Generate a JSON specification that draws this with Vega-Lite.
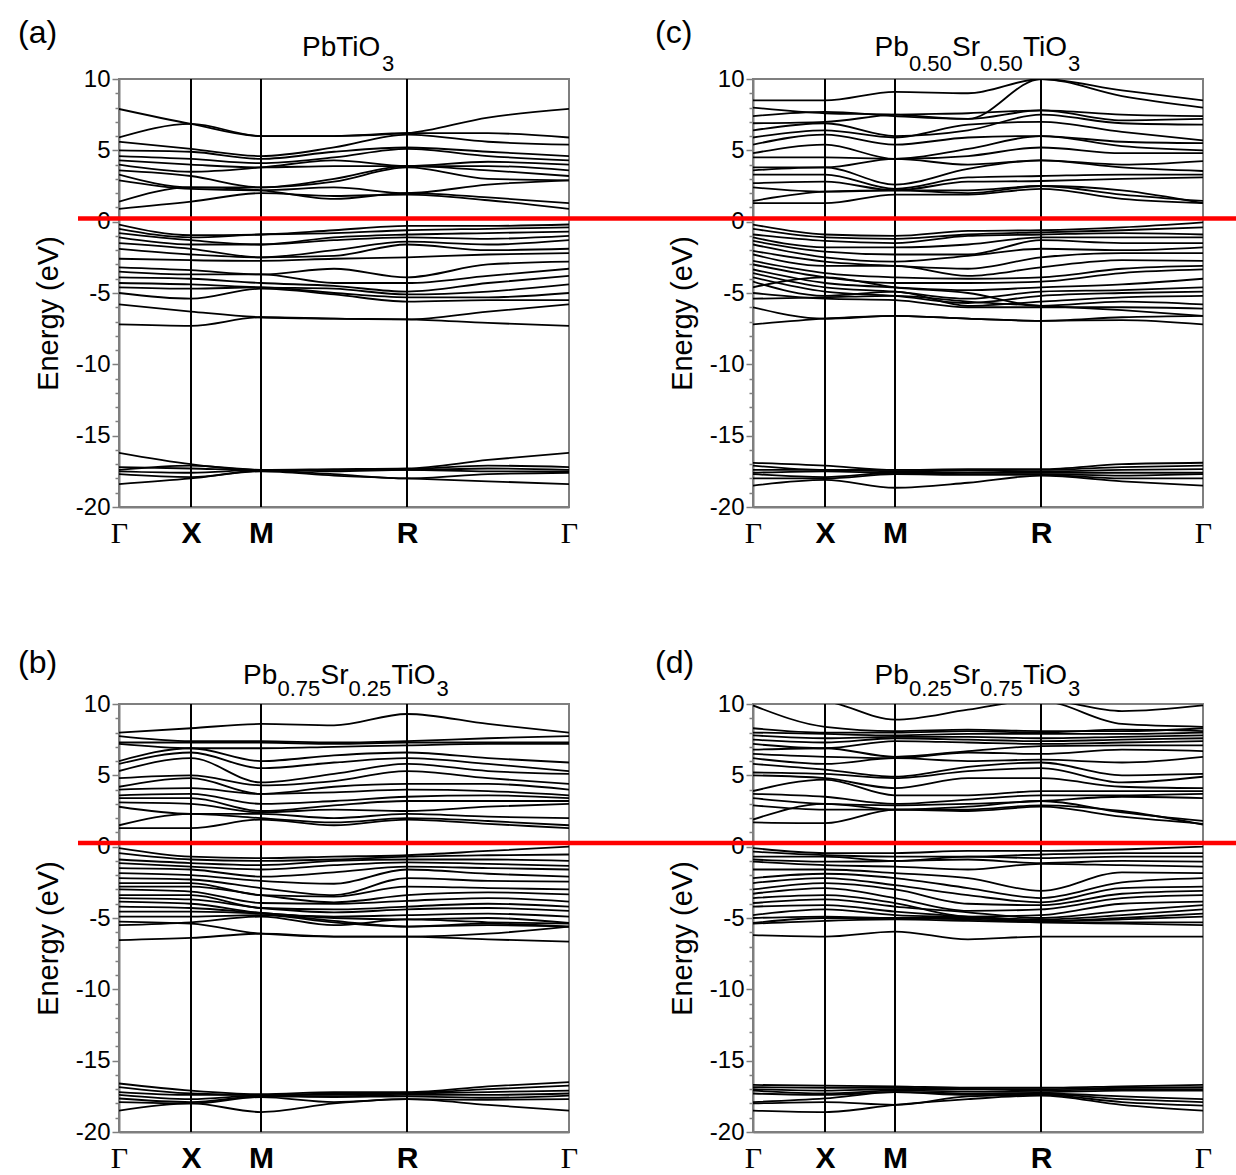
{
"$schema": "https://vega.github.io/schema/vega-lite/v6.json",
"padding": {"left": 17, "top": 16, "right": 0, "bottom": 0},
"background": "white",
"config": {
 "font": "Liberation Sans",
 "view": {"stroke": "#7f7f7f", "strokeWidth": 2},
 "axis": {"domainColor": "#7f7f7f", "domainWidth": 2, "tickColor": "#7f7f7f", "tickWidth": 1.5, "grid": false, "labelColor": "#000", "titleColor": "#000", "labelOverlap": false},
 "axisX": {"labelFontSize": 30, "labelPadding": 11},
 "axisY": {"labelFont": "Liberation Sans", "labelFontSize": 24, "labelPadding": 2, "titleFontSize": 29, "titleFont": "Liberation Sans", "titleFontWeight": "normal", "titlePadding": 12},
 "text": {"font": "Liberation Sans", "color": "#000"}
},
"datasets": {
"sym": [{"k":72},{"k":142},{"k":288}],
"a": [
{"b":1,"k":0,"e":-16.2},{"b":1,"k":72,"e":-17.0},{"b":1,"k":142,"e":-17.4},{"b":1,"k":215,"e":-17.35},{"b":1,"k":288,"e":-17.3},{"b":1,"k":369,"e":-16.7},{"b":1,"k":450,"e":-16.2},
{"b":2,"k":0,"e":-17.2},{"b":2,"k":72,"e":-17.3},{"b":2,"k":142,"e":-17.4},{"b":2,"k":215,"e":-17.4},{"b":2,"k":288,"e":-17.35},{"b":2,"k":369,"e":-17.1},{"b":2,"k":450,"e":-17.2},
{"b":3,"k":0,"e":-17.4},{"b":3,"k":72,"e":-17.1},{"b":3,"k":142,"e":-17.4},{"b":3,"k":215,"e":-17.4},{"b":3,"k":288,"e":-17.4},{"b":3,"k":369,"e":-17.3},{"b":3,"k":450,"e":-17.4},
{"b":4,"k":0,"e":-17.5},{"b":4,"k":72,"e":-17.6},{"b":4,"k":142,"e":-17.4},{"b":4,"k":215,"e":-17.5},{"b":4,"k":288,"e":-17.4},{"b":4,"k":369,"e":-17.5},{"b":4,"k":450,"e":-17.5},
{"b":5,"k":0,"e":-17.7},{"b":5,"k":72,"e":-17.9},{"b":5,"k":142,"e":-17.45},{"b":5,"k":215,"e":-17.7},{"b":5,"k":288,"e":-18.0},{"b":5,"k":369,"e":-17.7},{"b":5,"k":450,"e":-17.6},
{"b":6,"k":0,"e":-18.4},{"b":6,"k":72,"e":-18.0},{"b":6,"k":142,"e":-17.5},{"b":6,"k":215,"e":-17.8},{"b":6,"k":288,"e":-18.0},{"b":6,"k":369,"e":-18.2},{"b":6,"k":450,"e":-18.4},
{"b":7,"k":0,"e":-0.2},{"b":7,"k":72,"e":-0.95},{"b":7,"k":142,"e":-0.9},{"b":7,"k":215,"e":-0.6},{"b":7,"k":288,"e":-0.3},{"b":7,"k":369,"e":-0.3},{"b":7,"k":450,"e":-0.2},
{"b":8,"k":0,"e":-0.5},{"b":8,"k":72,"e":-1.1},{"b":8,"k":142,"e":-0.9},{"b":8,"k":215,"e":-0.8},{"b":8,"k":288,"e":-0.6},{"b":8,"k":369,"e":-0.5},{"b":8,"k":450,"e":-0.4},
{"b":9,"k":0,"e":-0.8},{"b":9,"k":72,"e":-1.3},{"b":9,"k":142,"e":-1.6},{"b":9,"k":215,"e":-1.1},{"b":9,"k":288,"e":-0.9},{"b":9,"k":369,"e":-0.8},{"b":9,"k":450,"e":-0.7},
{"b":10,"k":0,"e":-1.1},{"b":10,"k":72,"e":-1.6},{"b":10,"k":142,"e":-1.6},{"b":10,"k":215,"e":-1.3},{"b":10,"k":288,"e":-1.1},{"b":10,"k":369,"e":-1.2},{"b":10,"k":450,"e":-1.0},
{"b":11,"k":0,"e":-1.5},{"b":11,"k":72,"e":-1.9},{"b":11,"k":142,"e":-2.5},{"b":11,"k":215,"e":-2.0},{"b":11,"k":288,"e":-1.4},{"b":11,"k":369,"e":-1.6},{"b":11,"k":450,"e":-1.3},
{"b":12,"k":0,"e":-1.9},{"b":12,"k":72,"e":-2.3},{"b":12,"k":142,"e":-2.5},{"b":12,"k":215,"e":-2.4},{"b":12,"k":288,"e":-1.6},{"b":12,"k":369,"e":-2.0},{"b":12,"k":450,"e":-1.9},
{"b":13,"k":0,"e":-2.6},{"b":13,"k":72,"e":-2.7},{"b":13,"k":142,"e":-2.75},{"b":13,"k":215,"e":-2.6},{"b":13,"k":288,"e":-2.5},{"b":13,"k":369,"e":-2.3},{"b":13,"k":450,"e":-2.2},
{"b":14,"k":0,"e":-3.2},{"b":14,"k":72,"e":-3.4},{"b":14,"k":142,"e":-3.7},{"b":14,"k":215,"e":-3.3},{"b":14,"k":288,"e":-3.9},{"b":14,"k":369,"e":-3.0},{"b":14,"k":450,"e":-2.8},
{"b":15,"k":0,"e":-3.5},{"b":15,"k":72,"e":-3.7},{"b":15,"k":142,"e":-3.7},{"b":15,"k":215,"e":-4.3},{"b":15,"k":288,"e":-4.3},{"b":15,"k":369,"e":-3.8},{"b":15,"k":450,"e":-3.3},
{"b":16,"k":0,"e":-3.9},{"b":16,"k":72,"e":-4.0},{"b":16,"k":142,"e":-4.3},{"b":16,"k":215,"e":-4.5},{"b":16,"k":288,"e":-4.9},{"b":16,"k":369,"e":-4.3},{"b":16,"k":450,"e":-3.8},
{"b":17,"k":0,"e":-4.3},{"b":17,"k":72,"e":-4.4},{"b":17,"k":142,"e":-4.6},{"b":17,"k":215,"e":-4.7},{"b":17,"k":288,"e":-5.1},{"b":17,"k":369,"e":-4.9},{"b":17,"k":450,"e":-4.4},
{"b":18,"k":0,"e":-4.6},{"b":18,"k":72,"e":-4.7},{"b":18,"k":142,"e":-4.6},{"b":18,"k":215,"e":-5.0},{"b":18,"k":288,"e":-5.3},{"b":18,"k":369,"e":-5.3},{"b":18,"k":450,"e":-5.0},
{"b":19,"k":0,"e":-5.0},{"b":19,"k":72,"e":-5.4},{"b":19,"k":142,"e":-4.7},{"b":19,"k":215,"e":-5.1},{"b":19,"k":288,"e":-5.6},{"b":19,"k":369,"e":-5.5},{"b":19,"k":450,"e":-5.5},
{"b":20,"k":0,"e":-5.8},{"b":20,"k":72,"e":-6.3},{"b":20,"k":142,"e":-6.7},{"b":20,"k":215,"e":-6.8},{"b":20,"k":288,"e":-6.85},{"b":20,"k":369,"e":-6.3},{"b":20,"k":450,"e":-5.8},
{"b":21,"k":0,"e":-7.2},{"b":21,"k":72,"e":-7.3},{"b":21,"k":142,"e":-6.7},{"b":21,"k":215,"e":-6.8},{"b":21,"k":288,"e":-6.85},{"b":21,"k":369,"e":-7.1},{"b":21,"k":450,"e":-7.3},
{"b":22,"k":0,"e":7.9},{"b":22,"k":72,"e":6.85},{"b":22,"k":142,"e":6.0},{"b":22,"k":215,"e":6.0},{"b":22,"k":288,"e":6.2},{"b":22,"k":369,"e":7.3},{"b":22,"k":450,"e":7.9},
{"b":23,"k":0,"e":5.9},{"b":23,"k":72,"e":6.85},{"b":23,"k":142,"e":6.0},{"b":23,"k":215,"e":6.0},{"b":23,"k":288,"e":6.2},{"b":23,"k":369,"e":6.2},{"b":23,"k":450,"e":5.9},
{"b":24,"k":0,"e":5.6},{"b":24,"k":72,"e":5.1},{"b":24,"k":142,"e":4.6},{"b":24,"k":215,"e":5.2},{"b":24,"k":288,"e":6.1},{"b":24,"k":369,"e":5.6},{"b":24,"k":450,"e":5.4},
{"b":25,"k":0,"e":5.0},{"b":25,"k":72,"e":4.9},{"b":25,"k":142,"e":4.4},{"b":25,"k":215,"e":4.9},{"b":25,"k":288,"e":5.2},{"b":25,"k":369,"e":4.9},{"b":25,"k":450,"e":4.6},
{"b":26,"k":0,"e":4.6},{"b":26,"k":72,"e":4.4},{"b":26,"k":142,"e":4.1},{"b":26,"k":215,"e":4.5},{"b":26,"k":288,"e":5.1},{"b":26,"k":369,"e":4.6},{"b":26,"k":450,"e":4.3},
{"b":27,"k":0,"e":4.3},{"b":27,"k":72,"e":4.0},{"b":27,"k":142,"e":3.8},{"b":27,"k":215,"e":3.9},{"b":27,"k":288,"e":3.9},{"b":27,"k":369,"e":4.2},{"b":27,"k":450,"e":4.0},
{"b":28,"k":0,"e":4.0},{"b":28,"k":72,"e":3.5},{"b":28,"k":142,"e":3.8},{"b":28,"k":215,"e":4.3},{"b":28,"k":288,"e":3.9},{"b":28,"k":369,"e":3.9},{"b":28,"k":450,"e":3.6},
{"b":29,"k":0,"e":3.6},{"b":29,"k":72,"e":3.2},{"b":29,"k":142,"e":2.4},{"b":29,"k":215,"e":3.0},{"b":29,"k":288,"e":3.9},{"b":29,"k":369,"e":3.6},{"b":29,"k":450,"e":3.2},
{"b":30,"k":0,"e":3.3},{"b":30,"k":72,"e":2.4},{"b":30,"k":142,"e":2.4},{"b":30,"k":215,"e":2.8},{"b":30,"k":288,"e":3.8},{"b":30,"k":369,"e":3.0},{"b":30,"k":450,"e":2.9},
{"b":31,"k":0,"e":2.9},{"b":31,"k":72,"e":2.3},{"b":31,"k":142,"e":2.2},{"b":31,"k":215,"e":2.4},{"b":31,"k":288,"e":2.0},{"b":31,"k":369,"e":2.6},{"b":31,"k":450,"e":2.9},
{"b":32,"k":0,"e":1.4},{"b":32,"k":72,"e":2.4},{"b":32,"k":142,"e":2.2},{"b":32,"k":215,"e":1.6},{"b":32,"k":288,"e":2.0},{"b":32,"k":369,"e":1.7},{"b":32,"k":450,"e":1.3},
{"b":33,"k":0,"e":0.9},{"b":33,"k":72,"e":1.4},{"b":33,"k":142,"e":2.0},{"b":33,"k":215,"e":1.8},{"b":33,"k":288,"e":1.9},{"b":33,"k":369,"e":1.5},{"b":33,"k":450,"e":0.9}
],
"c": [
{"b":1,"k":0,"e":-16.9},{"b":1,"k":72,"e":-17.1},{"b":1,"k":142,"e":-17.4},{"b":1,"k":215,"e":-17.35},{"b":1,"k":288,"e":-17.35},{"b":1,"k":369,"e":-17.0},{"b":1,"k":450,"e":-16.9},
{"b":2,"k":0,"e":-17.1},{"b":2,"k":72,"e":-17.4},{"b":2,"k":142,"e":-17.4},{"b":2,"k":215,"e":-17.4},{"b":2,"k":288,"e":-17.4},{"b":2,"k":369,"e":-17.2},{"b":2,"k":450,"e":-17.1},
{"b":3,"k":0,"e":-17.4},{"b":3,"k":72,"e":-17.4},{"b":3,"k":142,"e":-17.5},{"b":3,"k":215,"e":-17.45},{"b":3,"k":288,"e":-17.5},{"b":3,"k":369,"e":-17.4},{"b":3,"k":450,"e":-17.35},
{"b":4,"k":0,"e":-17.6},{"b":4,"k":72,"e":-17.5},{"b":4,"k":142,"e":-17.6},{"b":4,"k":215,"e":-17.6},{"b":4,"k":288,"e":-17.6},{"b":4,"k":369,"e":-17.6},{"b":4,"k":450,"e":-17.6},
{"b":5,"k":0,"e":-17.7},{"b":5,"k":72,"e":-17.9},{"b":5,"k":142,"e":-17.6},{"b":5,"k":215,"e":-17.7},{"b":5,"k":288,"e":-17.7},{"b":5,"k":369,"e":-17.8},{"b":5,"k":450,"e":-17.7},
{"b":6,"k":0,"e":-18.0},{"b":6,"k":72,"e":-18.0},{"b":6,"k":142,"e":-17.7},{"b":6,"k":215,"e":-17.75},{"b":6,"k":288,"e":-17.75},{"b":6,"k":369,"e":-18.0},{"b":6,"k":450,"e":-18.0},
{"b":7,"k":0,"e":-18.5},{"b":7,"k":72,"e":-18.1},{"b":7,"k":142,"e":-18.65},{"b":7,"k":215,"e":-18.3},{"b":7,"k":288,"e":-17.8},{"b":7,"k":369,"e":-18.2},{"b":7,"k":450,"e":-18.5},
{"b":8,"k":0,"e":-0.2},{"b":8,"k":72,"e":-0.9},{"b":8,"k":142,"e":-1.0},{"b":8,"k":215,"e":-0.65},{"b":8,"k":288,"e":-0.6},{"b":8,"k":369,"e":-0.4},{"b":8,"k":450,"e":-0.05},
{"b":9,"k":0,"e":-0.5},{"b":9,"k":72,"e":-1.1},{"b":9,"k":142,"e":-1.2},{"b":9,"k":215,"e":-0.9},{"b":9,"k":288,"e":-0.75},{"b":9,"k":369,"e":-0.6},{"b":9,"k":450,"e":-0.4},
{"b":10,"k":0,"e":-0.9},{"b":10,"k":72,"e":-1.35},{"b":10,"k":142,"e":-1.5},{"b":10,"k":215,"e":-1.0},{"b":10,"k":288,"e":-0.9},{"b":10,"k":369,"e":-0.8},{"b":10,"k":450,"e":-0.9},
{"b":11,"k":0,"e":-1.1},{"b":11,"k":72,"e":-1.8},{"b":11,"k":142,"e":-1.8},{"b":11,"k":215,"e":-1.6},{"b":11,"k":288,"e":-1.1},{"b":11,"k":369,"e":-1.1},{"b":11,"k":450,"e":-1.1},
{"b":12,"k":0,"e":-1.35},{"b":12,"k":72,"e":-2.1},{"b":12,"k":142,"e":-2.3},{"b":12,"k":215,"e":-2.3},{"b":12,"k":288,"e":-1.3},{"b":12,"k":369,"e":-1.5},{"b":12,"k":450,"e":-1.5},
{"b":13,"k":0,"e":-1.6},{"b":13,"k":72,"e":-2.5},{"b":13,"k":142,"e":-2.8},{"b":13,"k":215,"e":-2.4},{"b":13,"k":288,"e":-1.9},{"b":13,"k":369,"e":-2.0},{"b":13,"k":450,"e":-1.8},
{"b":14,"k":0,"e":-2.05},{"b":14,"k":72,"e":-2.8},{"b":14,"k":142,"e":-3.1},{"b":14,"k":215,"e":-3.3},{"b":14,"k":288,"e":-2.5},{"b":14,"k":369,"e":-2.2},{"b":14,"k":450,"e":-2.2},
{"b":15,"k":0,"e":-2.3},{"b":15,"k":72,"e":-3.1},{"b":15,"k":142,"e":-3.1},{"b":15,"k":215,"e":-3.8},{"b":15,"k":288,"e":-3.2},{"b":15,"k":369,"e":-2.7},{"b":15,"k":450,"e":-2.75},
{"b":16,"k":0,"e":-2.75},{"b":16,"k":72,"e":-3.6},{"b":16,"k":142,"e":-3.9},{"b":16,"k":215,"e":-4.0},{"b":16,"k":288,"e":-3.9},{"b":16,"k":369,"e":-3.3},{"b":16,"k":450,"e":-3.1},
{"b":17,"k":0,"e":-3.0},{"b":17,"k":72,"e":-3.9},{"b":17,"k":142,"e":-4.3},{"b":17,"k":215,"e":-4.3},{"b":17,"k":288,"e":-4.2},{"b":17,"k":369,"e":-3.6},{"b":17,"k":450,"e":-3.35},
{"b":18,"k":0,"e":-3.35},{"b":18,"k":72,"e":-4.3},{"b":18,"k":142,"e":-4.6},{"b":18,"k":215,"e":-4.8},{"b":18,"k":288,"e":-4.6},{"b":18,"k":369,"e":-4.4},{"b":18,"k":450,"e":-4.0},
{"b":19,"k":0,"e":-3.6},{"b":19,"k":72,"e":-4.6},{"b":19,"k":142,"e":-4.9},{"b":19,"k":215,"e":-5.4},{"b":19,"k":288,"e":-4.9},{"b":19,"k":369,"e":-4.8},{"b":19,"k":450,"e":-4.6},
{"b":20,"k":0,"e":-3.9},{"b":20,"k":72,"e":-4.9},{"b":20,"k":142,"e":-5.2},{"b":20,"k":215,"e":-5.7},{"b":20,"k":288,"e":-5.2},{"b":20,"k":369,"e":-5.0},{"b":20,"k":450,"e":-4.9},
{"b":21,"k":0,"e":-4.2},{"b":21,"k":72,"e":-5.2},{"b":21,"k":142,"e":-4.9},{"b":21,"k":215,"e":-5.9},{"b":21,"k":288,"e":-5.6},{"b":21,"k":369,"e":-5.3},{"b":21,"k":450,"e":-5.2},
{"b":22,"k":0,"e":-4.6},{"b":22,"k":72,"e":-3.9},{"b":22,"k":142,"e":-4.6},{"b":22,"k":215,"e":-5.0},{"b":22,"k":288,"e":-5.9},{"b":22,"k":369,"e":-5.6},{"b":22,"k":450,"e":-5.8},
{"b":23,"k":0,"e":-5.0},{"b":23,"k":72,"e":-5.4},{"b":23,"k":142,"e":-5.5},{"b":23,"k":215,"e":-6.0},{"b":23,"k":288,"e":-6.0},{"b":23,"k":369,"e":-6.0},{"b":23,"k":450,"e":-6.1},
{"b":24,"k":0,"e":-5.4},{"b":24,"k":72,"e":-5.3},{"b":24,"k":142,"e":-5.2},{"b":24,"k":215,"e":-5.6},{"b":24,"k":288,"e":-5.9},{"b":24,"k":369,"e":-6.2},{"b":24,"k":450,"e":-6.6},
{"b":25,"k":0,"e":-6.0},{"b":25,"k":72,"e":-6.8},{"b":25,"k":142,"e":-6.6},{"b":25,"k":215,"e":-6.8},{"b":25,"k":288,"e":-6.95},{"b":25,"k":369,"e":-6.9},{"b":25,"k":450,"e":-7.2},
{"b":26,"k":0,"e":-7.2},{"b":26,"k":72,"e":-6.8},{"b":26,"k":142,"e":-6.6},{"b":26,"k":215,"e":-6.8},{"b":26,"k":288,"e":-6.95},{"b":26,"k":369,"e":-6.7},{"b":26,"k":450,"e":-6.6},
{"b":27,"k":0,"e":8.5},{"b":27,"k":72,"e":8.5},{"b":27,"k":142,"e":9.1},{"b":27,"k":215,"e":9.0},{"b":27,"k":288,"e":10.0},{"b":27,"k":369,"e":9.2},{"b":27,"k":450,"e":8.5},
{"b":28,"k":0,"e":8.0},{"b":28,"k":72,"e":7.6},{"b":28,"k":142,"e":7.5},{"b":28,"k":215,"e":7.2},{"b":28,"k":288,"e":10.0},{"b":28,"k":369,"e":8.8},{"b":28,"k":450,"e":8.0},
{"b":29,"k":0,"e":7.4},{"b":29,"k":72,"e":7.7},{"b":29,"k":142,"e":7.4},{"b":29,"k":215,"e":7.2},{"b":29,"k":288,"e":7.8},{"b":29,"k":369,"e":7.5},{"b":29,"k":450,"e":7.4},
{"b":30,"k":0,"e":6.9},{"b":30,"k":72,"e":7.0},{"b":30,"k":142,"e":7.5},{"b":30,"k":215,"e":7.6},{"b":30,"k":288,"e":7.8},{"b":30,"k":369,"e":7.1},{"b":30,"k":450,"e":7.2},
{"b":31,"k":0,"e":6.4},{"b":31,"k":72,"e":6.9},{"b":31,"k":142,"e":6.0},{"b":31,"k":215,"e":6.4},{"b":31,"k":288,"e":7.5},{"b":31,"k":369,"e":6.9},{"b":31,"k":450,"e":6.8},
{"b":32,"k":0,"e":5.9},{"b":32,"k":72,"e":6.4},{"b":32,"k":142,"e":5.9},{"b":32,"k":215,"e":6.8},{"b":32,"k":288,"e":7.0},{"b":32,"k":369,"e":6.3},{"b":32,"k":450,"e":5.7},
{"b":33,"k":0,"e":5.4},{"b":33,"k":72,"e":6.1},{"b":33,"k":142,"e":5.4},{"b":33,"k":215,"e":5.9},{"b":33,"k":288,"e":6.0},{"b":33,"k":369,"e":5.6},{"b":33,"k":450,"e":5.5},
{"b":34,"k":0,"e":4.8},{"b":34,"k":72,"e":5.4},{"b":34,"k":142,"e":4.4},{"b":34,"k":215,"e":5.1},{"b":34,"k":288,"e":6.0},{"b":34,"k":369,"e":5.3},{"b":34,"k":450,"e":5.0},
{"b":35,"k":0,"e":4.5},{"b":35,"k":72,"e":4.5},{"b":35,"k":142,"e":4.4},{"b":35,"k":215,"e":4.6},{"b":35,"k":288,"e":5.2},{"b":35,"k":369,"e":4.8},{"b":35,"k":450,"e":4.8},
{"b":36,"k":0,"e":3.8},{"b":36,"k":72,"e":3.8},{"b":36,"k":142,"e":4.4},{"b":36,"k":215,"e":4.0},{"b":36,"k":288,"e":4.3},{"b":36,"k":369,"e":4.0},{"b":36,"k":450,"e":4.25},
{"b":37,"k":0,"e":3.6},{"b":37,"k":72,"e":3.8},{"b":37,"k":142,"e":2.6},{"b":37,"k":215,"e":3.7},{"b":37,"k":288,"e":4.3},{"b":37,"k":369,"e":3.8},{"b":37,"k":450,"e":3.55},
{"b":38,"k":0,"e":3.3},{"b":38,"k":72,"e":3.3},{"b":38,"k":142,"e":2.3},{"b":38,"k":215,"e":3.1},{"b":38,"k":288,"e":3.2},{"b":38,"k":369,"e":3.3},{"b":38,"k":450,"e":3.3},
{"b":39,"k":0,"e":2.7},{"b":39,"k":72,"e":2.8},{"b":39,"k":142,"e":2.2},{"b":39,"k":215,"e":2.8},{"b":39,"k":288,"e":2.85},{"b":39,"k":369,"e":3.0},{"b":39,"k":450,"e":3.1},
{"b":40,"k":0,"e":2.4},{"b":40,"k":72,"e":2.1},{"b":40,"k":142,"e":2.2},{"b":40,"k":215,"e":2.2},{"b":40,"k":288,"e":2.5},{"b":40,"k":369,"e":1.9},{"b":40,"k":450,"e":1.45},
{"b":41,"k":0,"e":1.45},{"b":41,"k":72,"e":2.1},{"b":41,"k":142,"e":2.2},{"b":41,"k":215,"e":2.0},{"b":41,"k":288,"e":2.5},{"b":41,"k":369,"e":2.2},{"b":41,"k":450,"e":1.3},
{"b":42,"k":0,"e":1.3},{"b":42,"k":72,"e":1.3},{"b":42,"k":142,"e":1.9},{"b":42,"k":215,"e":1.9},{"b":42,"k":288,"e":2.3},{"b":42,"k":369,"e":1.6},{"b":42,"k":450,"e":1.3}
],
"b": [
{"b":1,"k":0,"e":-16.6},{"b":1,"k":72,"e":-17.1},{"b":1,"k":142,"e":-17.35},{"b":1,"k":215,"e":-17.2},{"b":1,"k":288,"e":-17.2},{"b":1,"k":369,"e":-16.8},{"b":1,"k":450,"e":-16.5},
{"b":2,"k":0,"e":-16.85},{"b":2,"k":72,"e":-17.3},{"b":2,"k":142,"e":-17.4},{"b":2,"k":215,"e":-17.3},{"b":2,"k":288,"e":-17.25},{"b":2,"k":369,"e":-17.0},{"b":2,"k":450,"e":-16.75},
{"b":3,"k":0,"e":-17.2},{"b":3,"k":72,"e":-17.4},{"b":3,"k":142,"e":-17.4},{"b":3,"k":215,"e":-17.4},{"b":3,"k":288,"e":-17.3},{"b":3,"k":369,"e":-17.2},{"b":3,"k":450,"e":-17.1},
{"b":4,"k":0,"e":-17.4},{"b":4,"k":72,"e":-17.7},{"b":4,"k":142,"e":-17.45},{"b":4,"k":215,"e":-17.5},{"b":4,"k":288,"e":-17.4},{"b":4,"k":369,"e":-17.4},{"b":4,"k":450,"e":-17.3},
{"b":5,"k":0,"e":-17.65},{"b":5,"k":72,"e":-17.9},{"b":5,"k":142,"e":-17.5},{"b":5,"k":215,"e":-17.55},{"b":5,"k":288,"e":-17.5},{"b":5,"k":369,"e":-17.6},{"b":5,"k":450,"e":-17.45},
{"b":6,"k":0,"e":-17.9},{"b":6,"k":72,"e":-18.0},{"b":6,"k":142,"e":-17.55},{"b":6,"k":215,"e":-17.9},{"b":6,"k":288,"e":-17.7},{"b":6,"k":369,"e":-17.75},{"b":6,"k":450,"e":-17.7},
{"b":7,"k":0,"e":-18.5},{"b":7,"k":72,"e":-18.0},{"b":7,"k":142,"e":-18.6},{"b":7,"k":215,"e":-18.0},{"b":7,"k":288,"e":-17.7},{"b":7,"k":369,"e":-18.1},{"b":7,"k":450,"e":-18.5},
{"b":8,"k":0,"e":-0.1},{"b":8,"k":72,"e":-0.7},{"b":8,"k":142,"e":-0.8},{"b":8,"k":215,"e":-0.7},{"b":8,"k":288,"e":-0.6},{"b":8,"k":369,"e":-0.3},{"b":8,"k":450,"e":0.0},
{"b":9,"k":0,"e":-0.45},{"b":9,"k":72,"e":-0.9},{"b":9,"k":142,"e":-1.0},{"b":9,"k":215,"e":-0.9},{"b":9,"k":288,"e":-0.7},{"b":9,"k":369,"e":-0.6},{"b":9,"k":450,"e":-0.55},
{"b":10,"k":0,"e":-0.9},{"b":10,"k":72,"e":-1.15},{"b":10,"k":142,"e":-1.3},{"b":10,"k":215,"e":-1.0},{"b":10,"k":288,"e":-0.9},{"b":10,"k":369,"e":-0.9},{"b":10,"k":450,"e":-1.0},
{"b":11,"k":0,"e":-1.15},{"b":11,"k":72,"e":-1.4},{"b":11,"k":142,"e":-1.6},{"b":11,"k":215,"e":-1.3},{"b":11,"k":288,"e":-1.1},{"b":11,"k":369,"e":-1.2},{"b":11,"k":450,"e":-1.35},
{"b":12,"k":0,"e":-1.5},{"b":12,"k":72,"e":-1.6},{"b":12,"k":142,"e":-2.1},{"b":12,"k":215,"e":-1.8},{"b":12,"k":288,"e":-1.4},{"b":12,"k":369,"e":-1.5},{"b":12,"k":450,"e":-1.6},
{"b":13,"k":0,"e":-1.85},{"b":13,"k":72,"e":-2.0},{"b":13,"k":142,"e":-2.4},{"b":13,"k":215,"e":-2.6},{"b":13,"k":288,"e":-1.6},{"b":13,"k":369,"e":-1.9},{"b":13,"k":450,"e":-2.1},
{"b":14,"k":0,"e":-2.2},{"b":14,"k":72,"e":-2.3},{"b":14,"k":142,"e":-2.9},{"b":14,"k":215,"e":-3.4},{"b":14,"k":288,"e":-2.2},{"b":14,"k":369,"e":-2.4},{"b":14,"k":450,"e":-2.45},
{"b":15,"k":0,"e":-2.55},{"b":15,"k":72,"e":-2.55},{"b":15,"k":142,"e":-3.4},{"b":15,"k":215,"e":-3.5},{"b":15,"k":288,"e":-2.8},{"b":15,"k":369,"e":-2.9},{"b":15,"k":450,"e":-3.0},
{"b":16,"k":0,"e":-2.8},{"b":16,"k":72,"e":-2.8},{"b":16,"k":142,"e":-3.4},{"b":16,"k":215,"e":-3.9},{"b":16,"k":288,"e":-3.4},{"b":16,"k":369,"e":-3.2},{"b":16,"k":450,"e":-3.35},
{"b":17,"k":0,"e":-3.0},{"b":17,"k":72,"e":-3.15},{"b":17,"k":142,"e":-3.95},{"b":17,"k":215,"e":-4.0},{"b":17,"k":288,"e":-3.8},{"b":17,"k":369,"e":-3.6},{"b":17,"k":450,"e":-3.85},
{"b":18,"k":0,"e":-3.4},{"b":18,"k":72,"e":-3.4},{"b":18,"k":142,"e":-4.3},{"b":18,"k":215,"e":-4.4},{"b":18,"k":288,"e":-4.2},{"b":18,"k":369,"e":-4.0},{"b":18,"k":450,"e":-4.2},
{"b":19,"k":0,"e":-3.6},{"b":19,"k":72,"e":-3.7},{"b":19,"k":142,"e":-4.3},{"b":19,"k":215,"e":-4.6},{"b":19,"k":288,"e":-4.4},{"b":19,"k":369,"e":-4.3},{"b":19,"k":450,"e":-4.5},
{"b":20,"k":0,"e":-3.85},{"b":20,"k":72,"e":-4.0},{"b":20,"k":142,"e":-4.65},{"b":20,"k":215,"e":-4.9},{"b":20,"k":288,"e":-4.8},{"b":20,"k":369,"e":-4.7},{"b":20,"k":450,"e":-4.9},
{"b":21,"k":0,"e":-4.2},{"b":21,"k":72,"e":-4.3},{"b":21,"k":142,"e":-4.65},{"b":21,"k":215,"e":-5.0},{"b":21,"k":288,"e":-5.1},{"b":21,"k":369,"e":-5.0},{"b":21,"k":450,"e":-5.35},
{"b":22,"k":0,"e":-4.55},{"b":22,"k":72,"e":-4.55},{"b":22,"k":142,"e":-4.7},{"b":22,"k":215,"e":-5.2},{"b":22,"k":288,"e":-5.6},{"b":22,"k":369,"e":-5.4},{"b":22,"k":450,"e":-5.6},
{"b":23,"k":0,"e":-4.9},{"b":23,"k":72,"e":-4.9},{"b":23,"k":142,"e":-4.8},{"b":23,"k":215,"e":-5.3},{"b":23,"k":288,"e":-5.6},{"b":23,"k":369,"e":-5.5},{"b":23,"k":450,"e":-5.6},
{"b":24,"k":0,"e":-5.25},{"b":24,"k":72,"e":-5.4},{"b":24,"k":142,"e":-6.1},{"b":24,"k":215,"e":-6.3},{"b":24,"k":288,"e":-6.3},{"b":24,"k":369,"e":-6.1},{"b":24,"k":450,"e":-5.6},
{"b":25,"k":0,"e":-5.5},{"b":25,"k":72,"e":-5.3},{"b":25,"k":142,"e":-4.9},{"b":25,"k":215,"e":-5.5},{"b":25,"k":288,"e":-5.1},{"b":25,"k":369,"e":-5.3},{"b":25,"k":450,"e":-5.4},
{"b":26,"k":0,"e":-6.55},{"b":26,"k":72,"e":-6.4},{"b":26,"k":142,"e":-6.1},{"b":26,"k":215,"e":-6.3},{"b":26,"k":288,"e":-6.3},{"b":26,"k":369,"e":-6.5},{"b":26,"k":450,"e":-6.65},
{"b":27,"k":0,"e":8.0},{"b":27,"k":72,"e":8.3},{"b":27,"k":142,"e":8.6},{"b":27,"k":215,"e":8.5},{"b":27,"k":288,"e":9.3},{"b":27,"k":369,"e":8.6},{"b":27,"k":450,"e":8.0},
{"b":28,"k":0,"e":7.75},{"b":28,"k":72,"e":7.4},{"b":28,"k":142,"e":7.4},{"b":28,"k":215,"e":7.3},{"b":28,"k":288,"e":7.4},{"b":28,"k":369,"e":7.6},{"b":28,"k":450,"e":7.75},
{"b":29,"k":0,"e":7.3},{"b":29,"k":72,"e":7.3},{"b":29,"k":142,"e":7.3},{"b":29,"k":215,"e":7.2},{"b":29,"k":288,"e":7.3},{"b":29,"k":369,"e":7.3},{"b":29,"k":450,"e":7.3},
{"b":30,"k":0,"e":7.2},{"b":30,"k":72,"e":6.9},{"b":30,"k":142,"e":6.9},{"b":30,"k":215,"e":7.0},{"b":30,"k":288,"e":7.1},{"b":30,"k":369,"e":7.2},{"b":30,"k":450,"e":7.2},
{"b":31,"k":0,"e":6.0},{"b":31,"k":72,"e":6.9},{"b":31,"k":142,"e":6.0},{"b":31,"k":215,"e":6.4},{"b":31,"k":288,"e":6.6},{"b":31,"k":369,"e":6.2},{"b":31,"k":450,"e":5.9},
{"b":32,"k":0,"e":5.8},{"b":32,"k":72,"e":6.6},{"b":32,"k":142,"e":5.5},{"b":32,"k":215,"e":5.9},{"b":32,"k":288,"e":6.2},{"b":32,"k":369,"e":5.8},{"b":32,"k":450,"e":5.3},
{"b":33,"k":0,"e":5.3},{"b":33,"k":72,"e":6.2},{"b":33,"k":142,"e":4.5},{"b":33,"k":215,"e":5.1},{"b":33,"k":288,"e":5.8},{"b":33,"k":369,"e":5.3},{"b":33,"k":450,"e":5.1},
{"b":34,"k":0,"e":4.8},{"b":34,"k":72,"e":5.0},{"b":34,"k":142,"e":4.3},{"b":34,"k":215,"e":4.6},{"b":34,"k":288,"e":5.3},{"b":34,"k":369,"e":4.8},{"b":34,"k":450,"e":4.4},
{"b":35,"k":0,"e":4.2},{"b":35,"k":72,"e":4.8},{"b":35,"k":142,"e":3.7},{"b":35,"k":215,"e":4.2},{"b":35,"k":288,"e":4.4},{"b":35,"k":369,"e":4.4},{"b":35,"k":450,"e":4.0},
{"b":36,"k":0,"e":4.0},{"b":36,"k":72,"e":4.1},{"b":36,"k":142,"e":3.7},{"b":36,"k":215,"e":3.8},{"b":36,"k":288,"e":4.0},{"b":36,"k":369,"e":3.9},{"b":36,"k":450,"e":3.6},
{"b":37,"k":0,"e":3.6},{"b":37,"k":72,"e":3.7},{"b":37,"k":142,"e":3.0},{"b":37,"k":215,"e":3.2},{"b":37,"k":288,"e":3.5},{"b":37,"k":369,"e":3.6},{"b":37,"k":450,"e":3.4},
{"b":38,"k":0,"e":3.4},{"b":38,"k":72,"e":3.4},{"b":38,"k":142,"e":2.5},{"b":38,"k":215,"e":2.9},{"b":38,"k":288,"e":3.2},{"b":38,"k":369,"e":3.2},{"b":38,"k":450,"e":3.2},
{"b":39,"k":0,"e":3.1},{"b":39,"k":72,"e":3.0},{"b":39,"k":142,"e":2.4},{"b":39,"k":215,"e":2.6},{"b":39,"k":288,"e":2.5},{"b":39,"k":369,"e":2.8},{"b":39,"k":450,"e":3.0},
{"b":40,"k":0,"e":2.8},{"b":40,"k":72,"e":2.3},{"b":40,"k":142,"e":2.3},{"b":40,"k":215,"e":2.0},{"b":40,"k":288,"e":2.3},{"b":40,"k":369,"e":2.1},{"b":40,"k":450,"e":2.0},
{"b":41,"k":0,"e":1.5},{"b":41,"k":72,"e":2.3},{"b":41,"k":142,"e":2.0},{"b":41,"k":215,"e":1.7},{"b":41,"k":288,"e":2.0},{"b":41,"k":369,"e":1.8},{"b":41,"k":450,"e":1.5},
{"b":42,"k":0,"e":1.3},{"b":42,"k":72,"e":1.3},{"b":42,"k":142,"e":1.9},{"b":42,"k":215,"e":1.5},{"b":42,"k":288,"e":1.9},{"b":42,"k":369,"e":1.6},{"b":42,"k":450,"e":1.3}
],
"d": [
{"b":1,"k":0,"e":-16.7},{"b":1,"k":72,"e":-16.75},{"b":1,"k":142,"e":-16.8},{"b":1,"k":215,"e":-16.9},{"b":1,"k":288,"e":-16.9},{"b":1,"k":369,"e":-16.8},{"b":1,"k":450,"e":-16.7},
{"b":2,"k":0,"e":-16.85},{"b":2,"k":72,"e":-16.9},{"b":2,"k":142,"e":-16.9},{"b":2,"k":215,"e":-17.0},{"b":2,"k":288,"e":-17.0},{"b":2,"k":369,"e":-16.9},{"b":2,"k":450,"e":-16.85},
{"b":3,"k":0,"e":-17.0},{"b":3,"k":72,"e":-17.1},{"b":3,"k":142,"e":-17.0},{"b":3,"k":215,"e":-17.0},{"b":3,"k":288,"e":-17.1},{"b":3,"k":369,"e":-17.0},{"b":3,"k":450,"e":-17.0},
{"b":4,"k":0,"e":-17.1},{"b":4,"k":72,"e":-17.3},{"b":4,"k":142,"e":-17.1},{"b":4,"k":215,"e":-17.15},{"b":4,"k":288,"e":-17.2},{"b":4,"k":369,"e":-17.1},{"b":4,"k":450,"e":-17.1},
{"b":5,"k":0,"e":-17.3},{"b":5,"k":72,"e":-17.4},{"b":5,"k":142,"e":-17.2},{"b":5,"k":215,"e":-17.3},{"b":5,"k":288,"e":-17.3},{"b":5,"k":369,"e":-17.5},{"b":5,"k":450,"e":-17.7},
{"b":6,"k":0,"e":-17.9},{"b":6,"k":72,"e":-17.65},{"b":6,"k":142,"e":-17.2},{"b":6,"k":215,"e":-17.4},{"b":6,"k":288,"e":-17.35},{"b":6,"k":369,"e":-17.7},{"b":6,"k":450,"e":-17.9},
{"b":7,"k":0,"e":-18.0},{"b":7,"k":72,"e":-17.9},{"b":7,"k":142,"e":-18.1},{"b":7,"k":215,"e":-17.5},{"b":7,"k":288,"e":-17.4},{"b":7,"k":369,"e":-17.9},{"b":7,"k":450,"e":-18.15},
{"b":8,"k":0,"e":-18.5},{"b":8,"k":72,"e":-18.6},{"b":8,"k":142,"e":-18.1},{"b":8,"k":215,"e":-17.7},{"b":8,"k":288,"e":-17.45},{"b":8,"k":369,"e":-18.1},{"b":8,"k":450,"e":-18.5},
{"b":9,"k":0,"e":-0.1},{"b":9,"k":72,"e":-0.45},{"b":9,"k":142,"e":-0.45},{"b":9,"k":215,"e":-0.3},{"b":9,"k":288,"e":-0.3},{"b":9,"k":369,"e":-0.2},{"b":9,"k":450,"e":0.0},
{"b":10,"k":0,"e":-0.35},{"b":10,"k":72,"e":-0.6},{"b":10,"k":142,"e":-0.7},{"b":10,"k":215,"e":-0.7},{"b":10,"k":288,"e":-0.55},{"b":10,"k":369,"e":-0.45},{"b":10,"k":450,"e":-0.45},
{"b":11,"k":0,"e":-0.7},{"b":11,"k":72,"e":-0.7},{"b":11,"k":142,"e":-1.0},{"b":11,"k":215,"e":-0.7},{"b":11,"k":288,"e":-0.8},{"b":11,"k":369,"e":-0.7},{"b":11,"k":450,"e":-0.7},
{"b":12,"k":0,"e":-0.9},{"b":12,"k":72,"e":-1.05},{"b":12,"k":142,"e":-1.0},{"b":12,"k":215,"e":-0.9},{"b":12,"k":288,"e":-1.15},{"b":12,"k":369,"e":-1.0},{"b":12,"k":450,"e":-1.05},
{"b":13,"k":0,"e":-1.05},{"b":13,"k":72,"e":-1.3},{"b":13,"k":142,"e":-1.4},{"b":13,"k":215,"e":-1.6},{"b":13,"k":288,"e":-1.2},{"b":13,"k":369,"e":-1.3},{"b":13,"k":450,"e":-1.4},
{"b":14,"k":0,"e":-1.6},{"b":14,"k":72,"e":-1.6},{"b":14,"k":142,"e":-1.85},{"b":14,"k":215,"e":-2.2},{"b":14,"k":288,"e":-3.1},{"b":14,"k":369,"e":-1.8},{"b":14,"k":450,"e":-1.85},
{"b":15,"k":0,"e":-2.2},{"b":15,"k":72,"e":-1.9},{"b":15,"k":142,"e":-2.2},{"b":15,"k":215,"e":-2.9},{"b":15,"k":288,"e":-3.6},{"b":15,"k":369,"e":-2.5},{"b":15,"k":450,"e":-2.2},
{"b":16,"k":0,"e":-2.55},{"b":16,"k":72,"e":-2.2},{"b":16,"k":142,"e":-2.7},{"b":16,"k":215,"e":-3.4},{"b":16,"k":288,"e":-3.9},{"b":16,"k":369,"e":-2.9},{"b":16,"k":450,"e":-2.8},
{"b":17,"k":0,"e":-3.0},{"b":17,"k":72,"e":-2.55},{"b":17,"k":142,"e":-3.0},{"b":17,"k":215,"e":-4.0},{"b":17,"k":288,"e":-4.1},{"b":17,"k":369,"e":-3.3},{"b":17,"k":450,"e":-3.1},
{"b":18,"k":0,"e":-3.3},{"b":18,"k":72,"e":-2.9},{"b":18,"k":142,"e":-3.6},{"b":18,"k":215,"e":-4.5},{"b":18,"k":288,"e":-4.4},{"b":18,"k":369,"e":-3.6},{"b":18,"k":450,"e":-3.4},
{"b":19,"k":0,"e":-3.6},{"b":19,"k":72,"e":-3.4},{"b":19,"k":142,"e":-3.95},{"b":19,"k":215,"e":-4.9},{"b":19,"k":288,"e":-4.8},{"b":19,"k":369,"e":-4.0},{"b":19,"k":450,"e":-3.85},
{"b":20,"k":0,"e":-3.95},{"b":20,"k":72,"e":-3.7},{"b":20,"k":142,"e":-4.2},{"b":20,"k":215,"e":-4.6},{"b":20,"k":288,"e":-5.0},{"b":20,"k":369,"e":-4.5},{"b":20,"k":450,"e":-4.1},
{"b":21,"k":0,"e":-4.2},{"b":21,"k":72,"e":-4.1},{"b":21,"k":142,"e":-4.55},{"b":21,"k":215,"e":-4.9},{"b":21,"k":288,"e":-5.1},{"b":21,"k":369,"e":-4.8},{"b":21,"k":450,"e":-4.4},
{"b":22,"k":0,"e":-4.8},{"b":22,"k":72,"e":-4.4},{"b":22,"k":142,"e":-4.8},{"b":22,"k":215,"e":-4.95},{"b":22,"k":288,"e":-5.2},{"b":22,"k":369,"e":-5.0},{"b":22,"k":450,"e":-4.7},
{"b":23,"k":0,"e":-5.0},{"b":23,"k":72,"e":-4.9},{"b":23,"k":142,"e":-5.0},{"b":23,"k":215,"e":-5.0},{"b":23,"k":288,"e":-5.25},{"b":23,"k":369,"e":-5.1},{"b":23,"k":450,"e":-4.9},
{"b":24,"k":0,"e":-5.35},{"b":24,"k":72,"e":-5.0},{"b":24,"k":142,"e":-5.0},{"b":24,"k":215,"e":-5.1},{"b":24,"k":288,"e":-5.3},{"b":24,"k":369,"e":-5.3},{"b":24,"k":450,"e":-5.3},
{"b":25,"k":0,"e":-5.4},{"b":25,"k":72,"e":-5.2},{"b":25,"k":142,"e":-5.1},{"b":25,"k":215,"e":-5.2},{"b":25,"k":288,"e":-5.3},{"b":25,"k":369,"e":-5.4},{"b":25,"k":450,"e":-5.5},
{"b":26,"k":0,"e":-6.2},{"b":26,"k":72,"e":-6.3},{"b":26,"k":142,"e":-5.95},{"b":26,"k":215,"e":-6.5},{"b":26,"k":288,"e":-6.3},{"b":26,"k":369,"e":-6.3},{"b":26,"k":450,"e":-6.3},
{"b":27,"k":0,"e":9.9},{"b":27,"k":72,"e":8.4},{"b":27,"k":142,"e":8.1},{"b":27,"k":215,"e":8.2},{"b":27,"k":288,"e":8.1},{"b":27,"k":369,"e":8.1},{"b":27,"k":450,"e":8.3},
{"b":28,"k":0,"e":10.5},{"b":28,"k":72,"e":10.2},{"b":28,"k":142,"e":8.9},{"b":28,"k":215,"e":9.6},{"b":28,"k":288,"e":10.3},{"b":28,"k":369,"e":9.5},{"b":28,"k":450,"e":9.9},
{"b":29,"k":0,"e":10.8},{"b":29,"k":72,"e":10.6},{"b":29,"k":142,"e":10.3},{"b":29,"k":215,"e":10.1},{"b":29,"k":288,"e":10.2},{"b":29,"k":369,"e":8.6},{"b":29,"k":450,"e":8.4},
{"b":30,"k":0,"e":8.3},{"b":30,"k":72,"e":8.0},{"b":30,"k":142,"e":8.0},{"b":30,"k":215,"e":8.1},{"b":30,"k":288,"e":8.0},{"b":30,"k":369,"e":8.2},{"b":30,"k":450,"e":8.1},
{"b":31,"k":0,"e":8.0},{"b":31,"k":72,"e":7.9},{"b":31,"k":142,"e":7.8},{"b":31,"k":215,"e":7.9},{"b":31,"k":288,"e":7.9},{"b":31,"k":369,"e":7.9},{"b":31,"k":450,"e":8.0},
{"b":32,"k":0,"e":7.8},{"b":32,"k":72,"e":7.6},{"b":32,"k":142,"e":7.7},{"b":32,"k":215,"e":7.7},{"b":32,"k":288,"e":7.6},{"b":32,"k":369,"e":7.7},{"b":32,"k":450,"e":7.8},
{"b":33,"k":0,"e":7.5},{"b":33,"k":72,"e":7.3},{"b":33,"k":142,"e":7.6},{"b":33,"k":215,"e":7.5},{"b":33,"k":288,"e":7.4},{"b":33,"k":369,"e":7.5},{"b":33,"k":450,"e":7.6},
{"b":34,"k":0,"e":7.2},{"b":34,"k":72,"e":6.9},{"b":34,"k":142,"e":7.4},{"b":34,"k":215,"e":7.3},{"b":34,"k":288,"e":7.2},{"b":34,"k":369,"e":7.3},{"b":34,"k":450,"e":7.4},
{"b":35,"k":0,"e":6.8},{"b":35,"k":72,"e":6.9},{"b":35,"k":142,"e":6.3},{"b":35,"k":215,"e":6.7},{"b":35,"k":288,"e":7.05},{"b":35,"k":369,"e":7.1},{"b":35,"k":450,"e":7.1},
{"b":36,"k":0,"e":6.5},{"b":36,"k":72,"e":6.3},{"b":36,"k":142,"e":6.2},{"b":36,"k":215,"e":6.6},{"b":36,"k":288,"e":6.5},{"b":36,"k":369,"e":6.8},{"b":36,"k":450,"e":6.7},
{"b":37,"k":0,"e":6.2},{"b":37,"k":72,"e":5.8},{"b":37,"k":142,"e":6.2},{"b":37,"k":215,"e":6.0},{"b":37,"k":288,"e":6.1},{"b":37,"k":369,"e":5.9},{"b":37,"k":450,"e":6.3},
{"b":38,"k":0,"e":5.8},{"b":38,"k":72,"e":5.4},{"b":38,"k":142,"e":4.9},{"b":38,"k":215,"e":5.6},{"b":38,"k":288,"e":5.9},{"b":38,"k":369,"e":5.0},{"b":38,"k":450,"e":5.1},
{"b":39,"k":0,"e":5.2},{"b":39,"k":72,"e":5.1},{"b":39,"k":142,"e":4.8},{"b":39,"k":215,"e":5.3},{"b":39,"k":288,"e":5.5},{"b":39,"k":369,"e":4.5},{"b":39,"k":450,"e":4.9},
{"b":40,"k":0,"e":5.0},{"b":40,"k":72,"e":4.8},{"b":40,"k":142,"e":4.1},{"b":40,"k":215,"e":4.8},{"b":40,"k":288,"e":4.8},{"b":40,"k":369,"e":4.2},{"b":40,"k":450,"e":4.1},
{"b":41,"k":0,"e":3.9},{"b":41,"k":72,"e":4.7},{"b":41,"k":142,"e":3.6},{"b":41,"k":215,"e":3.6},{"b":41,"k":288,"e":3.9},{"b":41,"k":369,"e":3.9},{"b":41,"k":450,"e":3.9},
{"b":42,"k":0,"e":3.7},{"b":42,"k":72,"e":3.5},{"b":42,"k":142,"e":3.0},{"b":42,"k":215,"e":3.3},{"b":42,"k":288,"e":3.6},{"b":42,"k":369,"e":3.6},{"b":42,"k":450,"e":3.7},
{"b":43,"k":0,"e":3.4},{"b":43,"k":72,"e":3.0},{"b":43,"k":142,"e":2.9},{"b":43,"k":215,"e":3.0},{"b":43,"k":288,"e":3.2},{"b":43,"k":369,"e":3.5},{"b":43,"k":450,"e":3.4},
{"b":44,"k":0,"e":2.9},{"b":44,"k":72,"e":2.6},{"b":44,"k":142,"e":2.6},{"b":44,"k":215,"e":2.8},{"b":44,"k":288,"e":3.2},{"b":44,"k":369,"e":2.4},{"b":44,"k":450,"e":1.8},
{"b":45,"k":0,"e":1.9},{"b":45,"k":72,"e":3.0},{"b":45,"k":142,"e":2.6},{"b":45,"k":215,"e":2.6},{"b":45,"k":288,"e":2.9},{"b":45,"k":369,"e":2.5},{"b":45,"k":450,"e":1.55},
{"b":46,"k":0,"e":1.7},{"b":46,"k":72,"e":1.65},{"b":46,"k":142,"e":2.6},{"b":46,"k":215,"e":2.5},{"b":46,"k":288,"e":2.8},{"b":46,"k":369,"e":2.1},{"b":46,"k":450,"e":1.6}
]
},
"columns": 2,
"spacing": {"row": 197, "column": 184},
"bounds": "flush",
"concat": [
 {"width": 450, "height": 428,
  "resolve": {"axis": {"y": "independent"}},
  "layer": [
   {"data": {"name": "a"}, "mark": {"type": "line", "color": "black", "strokeWidth": 1.8, "interpolate": "monotone", "clip": true},
    "encoding": {
     "x": {"field": "k", "type": "quantitative", "scale": {"domain": [0, 450], "nice": false, "zero": false},
      "axis": {"values": [0, 72, 142, 288, 450], "labelExpr": "datum.value == 72 ? 'X' : datum.value == 142 ? 'M' : datum.value == 288 ? 'R' : 'Γ'", "ticks": false, "title": null, "labelFlush": false, "labelOverlap": false, "labelBound": false,
       "labelFont": {"condition": {"test": "datum.value == 0 || datum.value == 450", "value": "Liberation Serif"}, "value": "Liberation Sans"},
       "labelFontWeight": {"condition": {"test": "datum.value == 0 || datum.value == 450", "value": "normal"}, "value": "bold"}}},
     "y": {"field": "e", "type": "quantitative", "scale": {"domain": [-20, 10], "nice": false, "zero": false},
      "axis": {"orient": "left", "values": [-20, -15, -10, -5, 0, 5, 10], "labelExpr": "'' + datum.value", "tickSize": 7, "title": "Energy (eV)", "titleY": 234, "labelFlush": false, "labelOverlap": false}},
     "detail": {"field": "b", "type": "nominal"}}},
   {"data": {"name": "sym"}, "mark": {"type": "rule", "color": "black", "strokeWidth": 2}, "encoding": {"x": {"field": "k", "type": "quantitative"}}},
   {"data": {"values": [{}]}, "mark": {"type": "rule", "color": "#ff0000", "strokeWidth": 4.5, "clip": false}, "encoding": {"x": {"datum": -41, "type": "quantitative"}, "x2": {"datum": 450}, "y": {"datum": 0.22, "type": "quantitative", "axis": {"orient": "left", "values": [-19,-18,-17,-16,-14,-13,-12,-11,-9,-8,-7,-6,-4,-3,-2,-1,1,2,3,4,6,7,8,9], "labels": false, "domain": false, "ticks": true, "tickSize": 4, "title": null, "grid": false}}}},
   {"data": {"values": [{}]}, "mark": {"type": "text", "align": "left", "baseline": "middle", "fontSize": 32, "clip": false}, "encoding": {"x": {"datum": -101, "type": "quantitative"}, "y": {"datum": 13.2, "type": "quantitative", "axis": null}, "text": {"value": "(a)"}}},
   {"data": {"values": [{}]}, "mark": {"type": "text", "align": "left", "baseline": "alphabetic", "fontSize": 28, "clip": false}, "encoding": {"x": {"datum": 183, "type": "quantitative"}, "y": {"datum": 11.61, "type": "quantitative", "axis": null}, "text": {"value": "PbTiO"}}},
   {"data": {"values": [{}]}, "mark": {"type": "text", "align": "left", "baseline": "alphabetic", "fontSize": 22, "clip": false}, "encoding": {"x": {"datum": 263, "type": "quantitative"}, "y": {"datum": 10.56, "type": "quantitative", "axis": null}, "text": {"value": "3"}}}
  ]},
 {"width": 450, "height": 428,
  "resolve": {"axis": {"y": "independent"}},
  "layer": [
   {"data": {"name": "c"}, "mark": {"type": "line", "color": "black", "strokeWidth": 1.8, "interpolate": "monotone", "clip": true},
    "encoding": {
     "x": {"field": "k", "type": "quantitative", "scale": {"domain": [0, 450], "nice": false, "zero": false},
      "axis": {"values": [0, 72, 142, 288, 450], "labelExpr": "datum.value == 72 ? 'X' : datum.value == 142 ? 'M' : datum.value == 288 ? 'R' : 'Γ'", "ticks": false, "title": null, "labelFlush": false, "labelOverlap": false, "labelBound": false,
       "labelFont": {"condition": {"test": "datum.value == 0 || datum.value == 450", "value": "Liberation Serif"}, "value": "Liberation Sans"},
       "labelFontWeight": {"condition": {"test": "datum.value == 0 || datum.value == 450", "value": "normal"}, "value": "bold"}}},
     "y": {"field": "e", "type": "quantitative", "scale": {"domain": [-20, 10], "nice": false, "zero": false},
      "axis": {"orient": "left", "values": [-20, -15, -10, -5, 0, 5, 10], "labelExpr": "'' + datum.value", "tickSize": 7, "title": "Energy (eV)", "titleY": 234, "labelFlush": false, "labelOverlap": false}},
     "detail": {"field": "b", "type": "nominal"}}},
   {"data": {"name": "sym"}, "mark": {"type": "rule", "color": "black", "strokeWidth": 2}, "encoding": {"x": {"field": "k", "type": "quantitative"}}},
   {"data": {"values": [{}]}, "mark": {"type": "rule", "color": "#ff0000", "strokeWidth": 4.5, "clip": false}, "encoding": {"x": {"datum": -184, "type": "quantitative"}, "x2": {"datum": 484}, "y": {"datum": 0.22, "type": "quantitative", "axis": {"orient": "left", "values": [-19,-18,-17,-16,-14,-13,-12,-11,-9,-8,-7,-6,-4,-3,-2,-1,1,2,3,4,6,7,8,9], "labels": false, "domain": false, "ticks": true, "tickSize": 4, "title": null, "grid": false}}}},
   {"data": {"values": [{}]}, "mark": {"type": "text", "align": "left", "baseline": "middle", "fontSize": 32, "clip": false}, "encoding": {"x": {"datum": -98, "type": "quantitative"}, "y": {"datum": 13.2, "type": "quantitative", "axis": null}, "text": {"value": "(c)"}}},
   {"data": {"values": [{}]}, "mark": {"type": "text", "align": "left", "baseline": "alphabetic", "fontSize": 28, "clip": false}, "encoding": {"x": {"datum": 121.5, "type": "quantitative"}, "y": {"datum": 11.61, "type": "quantitative", "axis": null}, "text": {"value": "Pb"}}},
   {"data": {"values": [{}]}, "mark": {"type": "text", "align": "left", "baseline": "alphabetic", "fontSize": 22, "clip": false}, "encoding": {"x": {"datum": 156, "type": "quantitative"}, "y": {"datum": 10.56, "type": "quantitative", "axis": null}, "text": {"value": "0.50"}}},
   {"data": {"values": [{}]}, "mark": {"type": "text", "align": "left", "baseline": "alphabetic", "fontSize": 28, "clip": false}, "encoding": {"x": {"datum": 199, "type": "quantitative"}, "y": {"datum": 11.61, "type": "quantitative", "axis": null}, "text": {"value": "Sr"}}},
   {"data": {"values": [{}]}, "mark": {"type": "text", "align": "left", "baseline": "alphabetic", "fontSize": 22, "clip": false}, "encoding": {"x": {"datum": 227, "type": "quantitative"}, "y": {"datum": 10.56, "type": "quantitative", "axis": null}, "text": {"value": "0.50"}}},
   {"data": {"values": [{}]}, "mark": {"type": "text", "align": "left", "baseline": "alphabetic", "fontSize": 28, "clip": false}, "encoding": {"x": {"datum": 270, "type": "quantitative"}, "y": {"datum": 11.61, "type": "quantitative", "axis": null}, "text": {"value": "TiO"}}},
   {"data": {"values": [{}]}, "mark": {"type": "text", "align": "left", "baseline": "alphabetic", "fontSize": 22, "clip": false}, "encoding": {"x": {"datum": 315, "type": "quantitative"}, "y": {"datum": 10.56, "type": "quantitative", "axis": null}, "text": {"value": "3"}}}
  ]},
 {"width": 450, "height": 428,
  "resolve": {"axis": {"y": "independent"}},
  "layer": [
   {"data": {"name": "b"}, "mark": {"type": "line", "color": "black", "strokeWidth": 1.8, "interpolate": "monotone", "clip": true},
    "encoding": {
     "x": {"field": "k", "type": "quantitative", "scale": {"domain": [0, 450], "nice": false, "zero": false},
      "axis": {"values": [0, 72, 142, 288, 450], "labelExpr": "datum.value == 72 ? 'X' : datum.value == 142 ? 'M' : datum.value == 288 ? 'R' : 'Γ'", "ticks": false, "title": null, "labelFlush": false, "labelOverlap": false, "labelBound": false,
       "labelFont": {"condition": {"test": "datum.value == 0 || datum.value == 450", "value": "Liberation Serif"}, "value": "Liberation Sans"},
       "labelFontWeight": {"condition": {"test": "datum.value == 0 || datum.value == 450", "value": "normal"}, "value": "bold"}}},
     "y": {"field": "e", "type": "quantitative", "scale": {"domain": [-20, 10], "nice": false, "zero": false},
      "axis": {"orient": "left", "values": [-20, -15, -10, -5, 0, 5, 10], "labelExpr": "'' + datum.value", "tickSize": 7, "title": "Energy (eV)", "titleY": 234, "labelFlush": false, "labelOverlap": false}},
     "detail": {"field": "b", "type": "nominal"}}},
   {"data": {"name": "sym"}, "mark": {"type": "rule", "color": "black", "strokeWidth": 2}, "encoding": {"x": {"field": "k", "type": "quantitative"}}},
   {"data": {"values": [{}]}, "mark": {"type": "rule", "color": "#ff0000", "strokeWidth": 4.5, "clip": false}, "encoding": {"x": {"datum": -41, "type": "quantitative"}, "x2": {"datum": 450}, "y": {"datum": 0.25, "type": "quantitative", "axis": {"orient": "left", "values": [-19,-18,-17,-16,-14,-13,-12,-11,-9,-8,-7,-6,-4,-3,-2,-1,1,2,3,4,6,7,8,9], "labels": false, "domain": false, "ticks": true, "tickSize": 4, "title": null, "grid": false}}}},
   {"data": {"values": [{}]}, "mark": {"type": "text", "align": "left", "baseline": "middle", "fontSize": 32, "clip": false}, "encoding": {"x": {"datum": -101, "type": "quantitative"}, "y": {"datum": 12.9, "type": "quantitative", "axis": null}, "text": {"value": "(b)"}}},
   {"data": {"values": [{}]}, "mark": {"type": "text", "align": "left", "baseline": "alphabetic", "fontSize": 28, "clip": false}, "encoding": {"x": {"datum": 124, "type": "quantitative"}, "y": {"datum": 11.38, "type": "quantitative", "axis": null}, "text": {"value": "Pb"}}},
   {"data": {"values": [{}]}, "mark": {"type": "text", "align": "left", "baseline": "alphabetic", "fontSize": 22, "clip": false}, "encoding": {"x": {"datum": 158.5, "type": "quantitative"}, "y": {"datum": 10.56, "type": "quantitative", "axis": null}, "text": {"value": "0.75"}}},
   {"data": {"values": [{}]}, "mark": {"type": "text", "align": "left", "baseline": "alphabetic", "fontSize": 28, "clip": false}, "encoding": {"x": {"datum": 201.5, "type": "quantitative"}, "y": {"datum": 11.38, "type": "quantitative", "axis": null}, "text": {"value": "Sr"}}},
   {"data": {"values": [{}]}, "mark": {"type": "text", "align": "left", "baseline": "alphabetic", "fontSize": 22, "clip": false}, "encoding": {"x": {"datum": 229.5, "type": "quantitative"}, "y": {"datum": 10.56, "type": "quantitative", "axis": null}, "text": {"value": "0.25"}}},
   {"data": {"values": [{}]}, "mark": {"type": "text", "align": "left", "baseline": "alphabetic", "fontSize": 28, "clip": false}, "encoding": {"x": {"datum": 272.5, "type": "quantitative"}, "y": {"datum": 11.38, "type": "quantitative", "axis": null}, "text": {"value": "TiO"}}},
   {"data": {"values": [{}]}, "mark": {"type": "text", "align": "left", "baseline": "alphabetic", "fontSize": 22, "clip": false}, "encoding": {"x": {"datum": 317.5, "type": "quantitative"}, "y": {"datum": 10.56, "type": "quantitative", "axis": null}, "text": {"value": "3"}}}
  ]},
 {"width": 450, "height": 428,
  "resolve": {"axis": {"y": "independent"}},
  "layer": [
   {"data": {"name": "d"}, "mark": {"type": "line", "color": "black", "strokeWidth": 1.8, "interpolate": "monotone", "clip": true},
    "encoding": {
     "x": {"field": "k", "type": "quantitative", "scale": {"domain": [0, 450], "nice": false, "zero": false},
      "axis": {"values": [0, 72, 142, 288, 450], "labelExpr": "datum.value == 72 ? 'X' : datum.value == 142 ? 'M' : datum.value == 288 ? 'R' : 'Γ'", "ticks": false, "title": null, "labelFlush": false, "labelOverlap": false, "labelBound": false,
       "labelFont": {"condition": {"test": "datum.value == 0 || datum.value == 450", "value": "Liberation Serif"}, "value": "Liberation Sans"},
       "labelFontWeight": {"condition": {"test": "datum.value == 0 || datum.value == 450", "value": "normal"}, "value": "bold"}}},
     "y": {"field": "e", "type": "quantitative", "scale": {"domain": [-20, 10], "nice": false, "zero": false},
      "axis": {"orient": "left", "values": [-20, -15, -10, -5, 0, 5, 10], "labelExpr": "'' + datum.value", "tickSize": 7, "title": "Energy (eV)", "titleY": 234, "labelFlush": false, "labelOverlap": false}},
     "detail": {"field": "b", "type": "nominal"}}},
   {"data": {"name": "sym"}, "mark": {"type": "rule", "color": "black", "strokeWidth": 2}, "encoding": {"x": {"field": "k", "type": "quantitative"}}},
   {"data": {"values": [{}]}, "mark": {"type": "rule", "color": "#ff0000", "strokeWidth": 4.5, "clip": false}, "encoding": {"x": {"datum": -184, "type": "quantitative"}, "x2": {"datum": 484}, "y": {"datum": 0.25, "type": "quantitative", "axis": {"orient": "left", "values": [-19,-18,-17,-16,-14,-13,-12,-11,-9,-8,-7,-6,-4,-3,-2,-1,1,2,3,4,6,7,8,9], "labels": false, "domain": false, "ticks": true, "tickSize": 4, "title": null, "grid": false}}}},
   {"data": {"values": [{}]}, "mark": {"type": "text", "align": "left", "baseline": "middle", "fontSize": 32, "clip": false}, "encoding": {"x": {"datum": -98, "type": "quantitative"}, "y": {"datum": 12.9, "type": "quantitative", "axis": null}, "text": {"value": "(d)"}}},
   {"data": {"values": [{}]}, "mark": {"type": "text", "align": "left", "baseline": "alphabetic", "fontSize": 28, "clip": false}, "encoding": {"x": {"datum": 121.5, "type": "quantitative"}, "y": {"datum": 11.38, "type": "quantitative", "axis": null}, "text": {"value": "Pb"}}},
   {"data": {"values": [{}]}, "mark": {"type": "text", "align": "left", "baseline": "alphabetic", "fontSize": 22, "clip": false}, "encoding": {"x": {"datum": 156, "type": "quantitative"}, "y": {"datum": 10.56, "type": "quantitative", "axis": null}, "text": {"value": "0.25"}}},
   {"data": {"values": [{}]}, "mark": {"type": "text", "align": "left", "baseline": "alphabetic", "fontSize": 28, "clip": false}, "encoding": {"x": {"datum": 199, "type": "quantitative"}, "y": {"datum": 11.38, "type": "quantitative", "axis": null}, "text": {"value": "Sr"}}},
   {"data": {"values": [{}]}, "mark": {"type": "text", "align": "left", "baseline": "alphabetic", "fontSize": 22, "clip": false}, "encoding": {"x": {"datum": 227, "type": "quantitative"}, "y": {"datum": 10.56, "type": "quantitative", "axis": null}, "text": {"value": "0.75"}}},
   {"data": {"values": [{}]}, "mark": {"type": "text", "align": "left", "baseline": "alphabetic", "fontSize": 28, "clip": false}, "encoding": {"x": {"datum": 270, "type": "quantitative"}, "y": {"datum": 11.38, "type": "quantitative", "axis": null}, "text": {"value": "TiO"}}},
   {"data": {"values": [{}]}, "mark": {"type": "text", "align": "left", "baseline": "alphabetic", "fontSize": 22, "clip": false}, "encoding": {"x": {"datum": 315, "type": "quantitative"}, "y": {"datum": 10.56, "type": "quantitative", "axis": null}, "text": {"value": "3"}}}
  ]}
]
}
